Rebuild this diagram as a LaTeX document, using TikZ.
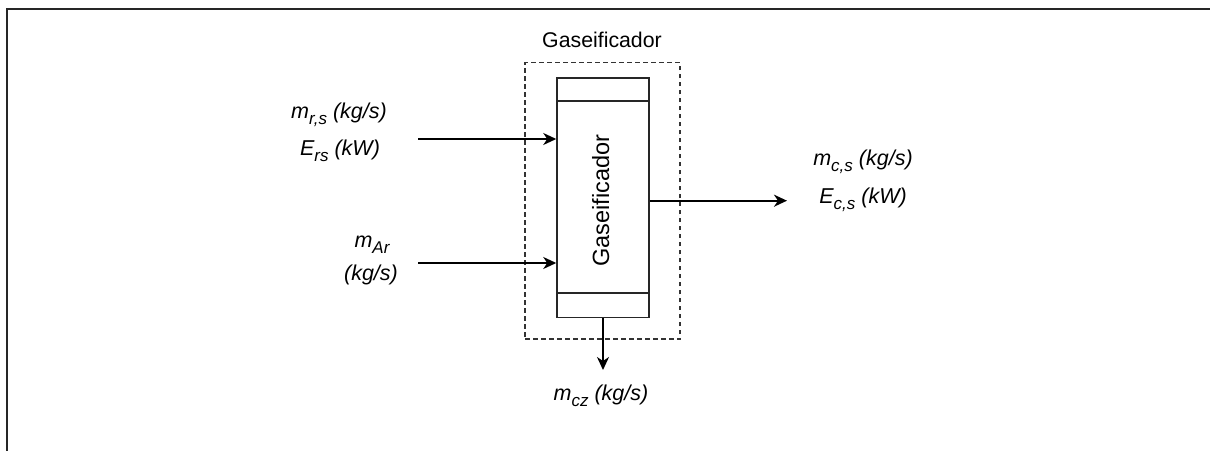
\documentclass[tikz,border=0pt]{standalone}
\usepackage{fontspec}
\setmainfont{Liberation Sans}
\usetikzlibrary{arrows.meta}
\newcommand\lowsub[1]{\raisebox{-0.28em}{\fontsize{17}{17}\selectfont #1}}
\tikzset{
  frame/.style={line width=2.4pt, draw=black!85},
  unit/.style={draw=black!85, line width=1.5pt, fill=white},
  envelope/.style={draw=black!80, line width=1.6pt, dash pattern=on 4.5pt off 3.5pt},
  flow/.style={line width=1.8pt, -{Stealth[length=13pt,width=12pt,inset=4pt]}},
  lbl/.style={font=\fontsize{21.5}{25}\selectfont\itshape, inner sep=0pt, anchor=base},
  title/.style={font=\fontsize{21.3}{25}\selectfont, inner sep=0pt},
  innertitle/.style={font=\fontsize{23.5}{27}\selectfont, inner sep=0pt},
}
\begin{document}
\begin{tikzpicture}[x=1pt,y=-1pt]
\useasboundingbox (0,0) rectangle (1210,450);
\draw[frame] (7,452) -- (7,9) -- (1212,9);
% dashed envelope
\node[envelope, minimum width=155pt, minimum height=276.5pt, inner sep=0pt] (env) at (602.5,200.8) {};
\node[title, anchor=base] (envlbl) at (602,47) {Gaseificador};
% gasifier unit
\node[unit, minimum width=92pt, minimum height=239.5pt, inner sep=0pt] (gas) at (603,197.5) {};
\draw[draw=black!85, line width=1.5pt] ([yshift=-24pt]gas.north west) -- ([yshift=-24pt]gas.north east);
\draw[draw=black!85, line width=1.5pt] ([yshift=25pt]gas.south west) -- ([yshift=25pt]gas.south east);
\node[innertitle, rotate=90, anchor=base] (gaslbl) at (609,200.5) {Gaseificador};
% inputs
\coordinate (in1) at (418,139);
\coordinate (in2) at (418,263);
\draw[flow] (in1) -- (in1 -| gas.west);
\draw[flow] (in2) -- (in2 -| gas.west);
\coordinate (out1) at (787,200.7);
\draw[flow] (out1 -| gas.east) -- (out1);
\coordinate (ash) at (603,370);
\draw[flow] (gas.south) -- (ash);
% labels
\node[lbl] (l1) at (339,118.5) {m\lowsub{r,s} (kg/s)};
\node[lbl] (l2) at (340,155) {E\lowsub{rs} (kW)};
\node[lbl] (l3) at (372,247) {m\lowsub{Ar}};
\node[lbl] (l4) at (371,280) {(kg/s)};
\node[lbl] (l5) at (863,165) {m\lowsub{c,s} (kg/s)};
\node[lbl] (l6) at (863,203) {E\lowsub{c,s} (kW)};
\node[lbl] (l7) at (601,400) {m\lowsub{cz} (kg/s)};
\end{tikzpicture}
\end{document}
